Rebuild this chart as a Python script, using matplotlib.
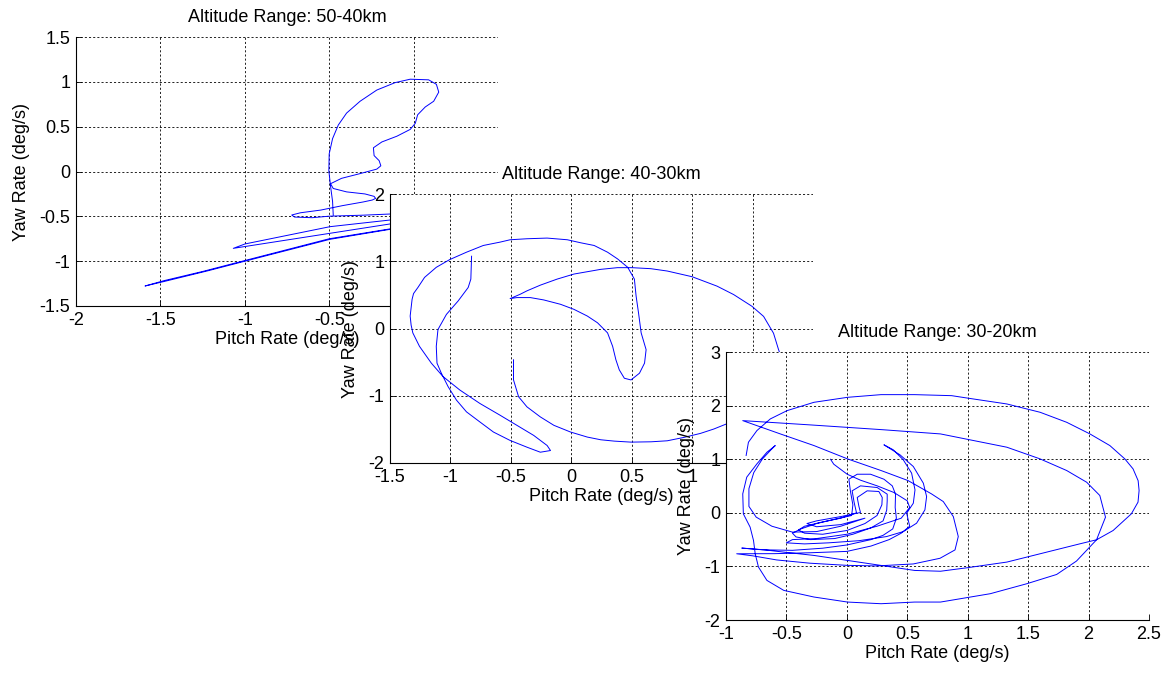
import matplotlib
matplotlib.use("Agg")
import matplotlib.pyplot as plt
from matplotlib.ticker import FormatStrFormatter

plt.rcParams['font.family'] = ['Liberation Sans', 'DejaVu Sans']
plt.rcParams['lines.scale_dashes'] = False

# ---- 50-40 km : pitch / yaw rate trace (deg/s)
pitch_50_40 = [-0.476, -0.480, -0.492, -0.502, -0.500, -0.480, -0.446, -0.397, -0.317, -0.218,
               -0.109, -0.020, 0.089, 0.135, 0.149, 0.119, 0.069, 0.024, 0.010, -0.020,
               -0.099, -0.188, -0.238, -0.234, -0.204, -0.194, -0.218, -0.317, -0.427, -0.492,
               -0.476, -0.397, -0.288, -0.234, -0.225, -0.245, -0.300, -0.420, -0.550, -0.670,
               -0.722, -0.705, -0.600, -0.500, -0.300, -0.140, 0.100, 0.200, 0.100, -0.140,
               -0.495, -0.999, -1.068, -1.028, -0.495, -0.140, 0.100, 0.200, 0.100, -0.140,
               -0.495, -0.999, -1.216, -1.483, -1.591, -1.480, -1.250, -1.000, -0.500, -0.140,
               0.100]
yaw_50_40 = [-0.485, -0.333, -0.163, 0.008, 0.197, 0.367, 0.519, 0.652, 0.784, 0.909,
             0.992, 1.030, 1.023, 0.973, 0.886, 0.784, 0.720, 0.633, 0.538, 0.470,
             0.394, 0.330, 0.265, 0.178, 0.121, 0.064, 0.027, -0.023, -0.076, -0.136,
             -0.189, -0.227, -0.250, -0.277, -0.300, -0.318, -0.340, -0.380, -0.430, -0.460,
             -0.485, -0.508, -0.515, -0.498, -0.487, -0.474, -0.440, -0.480, -0.520, -0.541,
             -0.615, -0.808, -0.857, -0.845, -0.689, -0.585, -0.550, -0.600, -0.630, -0.645,
             -0.756, -1.000, -1.106, -1.229, -1.277, -1.218, -1.115, -0.993, -0.750, -0.640,
             -0.600]

# ---- 40-30 km
pitch_40_30 = [-0.478, -0.478, -0.436, -0.367, -0.256, -0.144, -0.006, 0.133, 0.244, 0.356,
               0.494, 0.661, 0.794, 0.931, 1.069, 1.179, 1.283, 1.550, 1.720, 1.760,
               1.714, 1.673, 1.591, 1.495, 1.343, 1.206, 1.000, 0.794, 0.657, 0.500,
               0.382, 0.244, 0.133, 0.022, -0.117, -0.256, -0.367, -0.422, -0.506, -0.450,
               -0.339, -0.228, -0.089, 0.022, 0.133, 0.217, 0.300, 0.342, 0.369, 0.397,
               0.439, 0.494, 0.564, 0.606, 0.619, 0.578, 0.556, 0.536, 0.522, 0.467,
               0.383, 0.300, 0.189, 0.078, -0.033, -0.200, -0.367, -0.506, -0.589, -0.728,
               -0.867, -1.006, -1.117, -1.214, -1.269, -1.305, -1.317, -1.333, -1.325, -1.311,
               -1.256, -1.158, -1.061, -0.922, -0.756, -0.589, -0.450, -0.311, -0.200, -0.172,
               -0.256, -0.367, -0.506, -0.644, -0.756, -0.867, -0.950, -1.019, -1.075, -1.111,
               -1.117, -1.103, -1.033, -0.936, -0.853, -0.831, -0.825]
yaw_40_30 = [-0.465, -0.765, -1.015, -1.165, -1.315, -1.440, -1.540, -1.615, -1.655, -1.675,
             -1.690, -1.685, -1.670, -1.620, -1.560, -1.495, -1.420, -1.200, -0.900, -0.550,
             -0.310, -0.070, 0.180, 0.330, 0.505, 0.630, 0.770, 0.855, 0.890, 0.905,
             0.905, 0.880, 0.845, 0.810, 0.735, 0.645, 0.560, 0.510, 0.445, 0.460,
             0.460, 0.425, 0.360, 0.285, 0.185, 0.085, -0.065, -0.265, -0.465, -0.615,
             -0.740, -0.765, -0.665, -0.515, -0.315, -0.065, 0.235, 0.485, 0.735, 0.910,
             1.035, 1.135, 1.235, 1.275, 1.320, 1.345, 1.335, 1.320, 1.285, 1.235,
             1.135, 1.025, 0.910, 0.760, 0.610, 0.520, 0.435, 0.185, 0.050, -0.065,
             -0.265, -0.515, -0.715, -0.915, -1.115, -1.290, -1.440, -1.590, -1.740, -1.815,
             -1.840, -1.765, -1.665, -1.540, -1.390, -1.240, -1.065, -0.865, -0.665, -0.515,
             -0.265, -0.015, 0.210, 0.410, 0.610, 0.735, 1.075]

# ---- 30-20 km
pitch_30_20 = [-0.833, -0.814, -0.744, -0.633, -0.494, -0.272, 0.006, 0.283, 0.561, 0.867,
               1.000, 1.324, 1.599, 1.819, 2.011, 2.176, 2.300, 2.368, 2.410, 2.418,
               2.409, 2.354, 2.203, 2.066, 1.929, 1.599, 1.324, 0.995, 0.775, 0.561,
               0.283, 0.006, -0.272, -0.522, -0.689, -0.869, -0.700, -0.450, -0.200, 0.000,
               0.200, 0.300, 0.380, 0.410, 0.400, 0.403, 0.376, 0.307, 0.196, 0.086,
               0.017, 0.030, 0.050, 0.040, -0.100, -0.250, -0.380, -0.450, -0.420, -0.300,
               -0.100, 0.050, 0.200, 0.300, 0.330, 0.334, 0.334, 0.251, 0.113, 0.044,
               0.060, 0.080, -0.050, -0.200, -0.350, -0.400, -0.350, -0.200, 0.000, 0.150,
               0.250, 0.290, 0.293, 0.265, 0.168, 0.086, 0.100, 0.113, -0.050, -0.250,
               -0.330, -0.250, -0.050, 0.150, -0.050, -0.250, -0.450, -0.620, -0.750, -0.810,
               -0.810, -0.770, -0.700, -0.630, -0.592, -0.661, -0.744, -0.828, -0.861, -0.856,
               -0.800, -0.772, -0.758, -0.731, -0.661, -0.522, -0.272, 0.006, 0.283, 0.561,
               0.775, 1.187, 1.489, 1.736, 1.900, 2.066, 2.140, 2.093, 1.984, 1.819,
               1.599, 1.324, 0.775, 0.300, -0.300, -0.861, -0.550, -0.272, 0.006, 0.283,
               0.506, 0.700, 0.798, 0.881, 0.922, 0.895, 0.771, 0.550, 0.247, 0.000,
               -0.305, -0.581, -0.774, -0.911, -0.600, -0.300, 0.000, 0.200, 0.350, 0.450,
               0.520, 0.495, 0.550, 0.564, 0.536, 0.467, 0.384, 0.307, 0.440, 0.550,
               0.633, 0.660, 0.646, 0.577, 0.467, 0.329, 0.100, -0.150, -0.350, -0.500,
               -0.450, -0.250, 0.000, 0.250, 0.450, 0.520, 0.500, 0.390, 0.251, 0.113,
               0.003, -0.108, -0.135]
yaw_30_20 = [1.070, 1.317, 1.534, 1.752, 1.907, 2.062, 2.155, 2.205, 2.205, 2.186,
             2.140, 2.031, 1.876, 1.689, 1.472, 1.255, 1.006, 0.820, 0.600, 0.416,
             0.199, -0.019, -0.330, -0.503, -0.578, -0.764, -0.919, -1.025, -1.090, -1.075,
             -0.981, -0.888, -0.795, -0.733, -0.689, -0.658, -0.690, -0.700, -0.660, -0.600,
             -0.500, -0.420, -0.300, -0.100, 0.100, 0.348, 0.503, 0.627, 0.720, 0.720,
             0.627, 0.400, 0.150, -0.050, -0.120, -0.200, -0.300, -0.380, -0.450, -0.500,
             -0.480, -0.400, -0.280, -0.150, 0.050, 0.224, 0.348, 0.472, 0.503, 0.410,
             0.200, 0.000, -0.100, -0.170, -0.250, -0.320, -0.380, -0.400, -0.330, -0.200,
             -0.050, 0.150, 0.286, 0.398, 0.410, 0.286, 0.120, 0.006, -0.070, -0.150,
             -0.200, -0.260, -0.220, -0.100, -0.250, -0.350, -0.360, -0.250, -0.080, 0.120,
             0.450, 0.750, 1.000, 1.170, 1.255, 1.130, 0.913, 0.665, 0.354, -0.019,
             -0.267, -0.516, -0.764, -1.012, -1.261, -1.447, -1.571, -1.665, -1.696, -1.665,
             -1.665, -1.509, -1.323, -1.150, -0.900, -0.503, -0.081, 0.323, 0.571, 0.789,
             1.006, 1.224, 1.472, 1.550, 1.640, 1.720, 1.472, 1.255, 1.006, 0.789,
             0.602, 0.354, 0.210, -0.070, -0.443, -0.692, -0.848, -0.954, -0.991, -0.980,
             -0.940, -0.879, -0.804, -0.764, -0.762, -0.745, -0.720, -0.620, -0.500, -0.380,
             -0.250, -0.007, 0.179, 0.428, 0.740, 0.989, 1.176, 1.269, 1.082, 0.864,
             0.553, 0.304, 0.055, -0.194, -0.350, -0.443, -0.520, -0.560, -0.580, -0.560,
             -0.500, -0.480, -0.400, -0.250, -0.100, 0.100, 0.224, 0.379, 0.503, 0.609,
             0.720, 0.907, 1.000]

x1_ticks = [-2, -1.5, -1, -0.5, 0, 0.5]
y1_ticks = [-1.5, -1, -0.5, 0, 0.5, 1, 1.5]
x2_ticks = [-1.5, -1, -0.5, 0, 0.5, 1, 1.5, 2]
y2_ticks = [-2, -1, 0, 1, 2]
x3_ticks = [-1, -0.5, 0, 0.5, 1, 1.5, 2, 2.5]
y3_ticks = [-2, -1, 0, 1, 2, 3]

titles = ['Altitude Range: 50-40km', 'Altitude Range: 40-30km', 'Altitude Range: 30-20km']


def rate_plot(fig, rect, pitch, yaw, xticks, yticks, title):
    ax = fig.add_axes(rect)
    ax.set_facecolor('white')
    ax.plot(pitch, yaw, color='#0000ff', linewidth=0.7)
    ax.set_xlim(xticks[0], xticks[-1])
    ax.set_ylim(yticks[0], yticks[-1])
    ax.set_xticks(xticks)
    ax.set_yticks(yticks)
    ax.xaxis.set_major_formatter(FormatStrFormatter('%g'))
    ax.yaxis.set_major_formatter(FormatStrFormatter('%g'))
    ax.grid(True, color='black', linestyle=(0, (1.5, 1.5)), linewidth=0.6)
    for side in ['top', 'right']:
        ax.spines[side].set_visible(False)
    for side in ['left', 'bottom']:
        ax.spines[side].set_linewidth(0.8)
    ax.tick_params(direction='in', length=4, width=0.6, labelsize=13, pad=4)
    ax.set_xlabel('Pitch Rate (deg/s)', fontsize=13, labelpad=2)
    ax.set_ylabel('Yaw Rate (deg/s)', fontsize=13, labelpad=7)
    ax.set_title(title, fontsize=13, pad=11)
    return ax


fig = plt.figure(figsize=(11.69, 6.74), dpi=100, facecolor='white')
rate_plot(fig, [0.0650, 0.546, 0.361, 0.399], pitch_50_40, yaw_50_40, x1_ticks, y1_ticks, titles[0])
rate_plot(fig, [0.3336, 0.3131, 0.3619, 0.399], pitch_40_30, yaw_40_30, x2_ticks, y2_ticks, titles[1])
rate_plot(fig, [0.6210, 0.0801, 0.3619, 0.3976], pitch_30_20, yaw_30_20, x3_ticks, y3_ticks, titles[2])

fig.savefig('out.png', dpi=100, facecolor='white')
